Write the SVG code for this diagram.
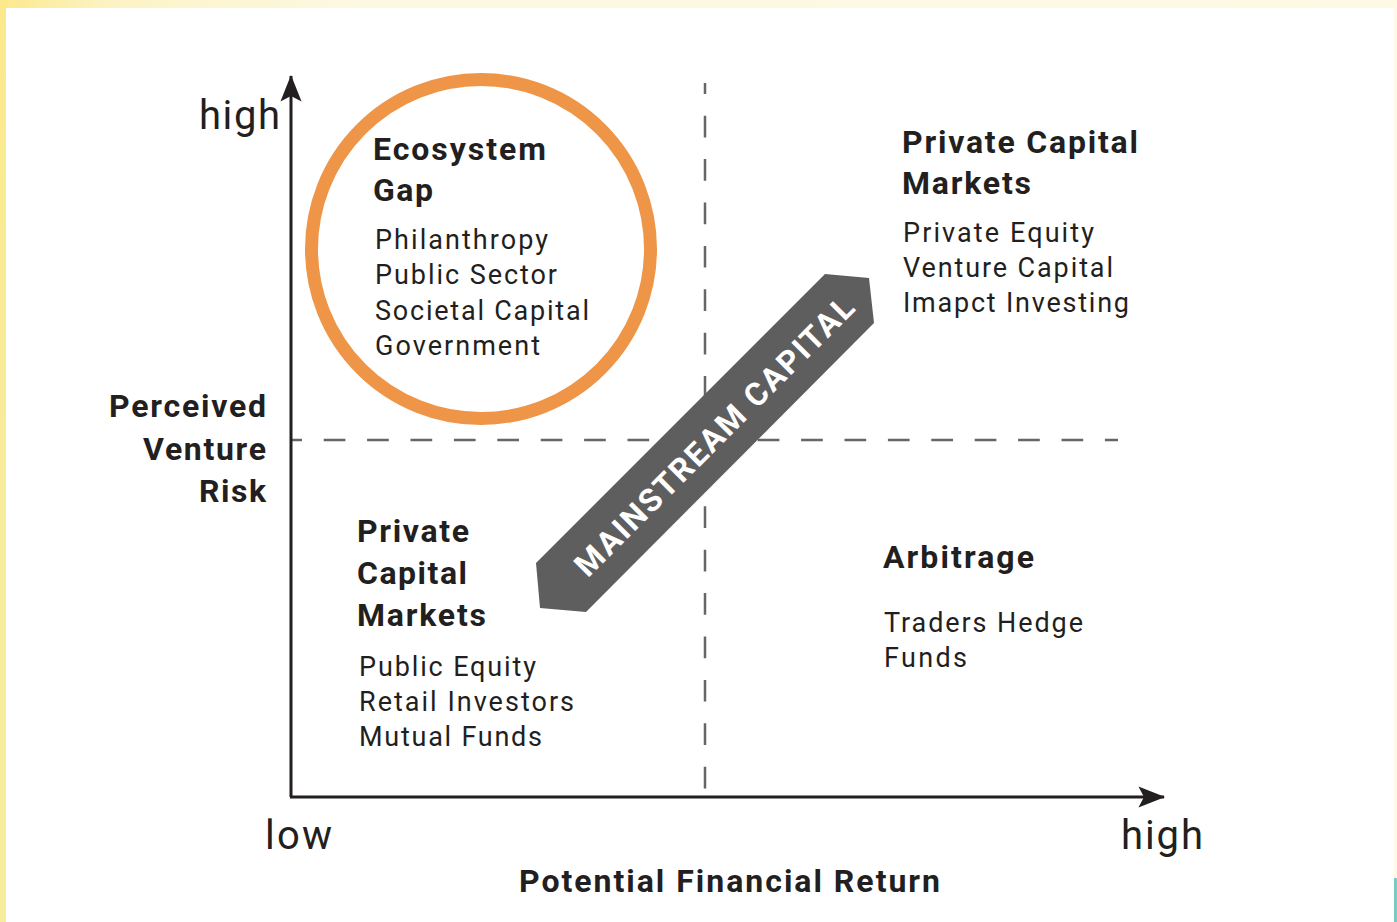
<svg xmlns="http://www.w3.org/2000/svg" width="1397" height="922" viewBox="0 0 1397 922">
  <defs>
    <linearGradient id="edgeLeft" x1="0" y1="0" x2="0" y2="1">
      <stop offset="0" stop-color="#fbe98c"/>
      <stop offset="0.5" stop-color="#f8ec9a"/>
      <stop offset="1" stop-color="#f7ec9c"/>
    </linearGradient>
    <linearGradient id="edgeTop" x1="0" y1="0" x2="1" y2="0">
      <stop offset="0" stop-color="#fbe98c"/>
      <stop offset="0.08" stop-color="#fcf3c4"/>
      <stop offset="0.25" stop-color="#fdf8e2"/>
      <stop offset="1" stop-color="#fef9e4"/>
    </linearGradient>
    <marker id="arrowHead" markerWidth="30" markerHeight="30" refX="0" refY="0" viewBox="-25 -12 27 24" markerUnits="userSpaceOnUse" orient="auto">
      <path d="M1,0 L-23,-9.5 L-18,0 L-23,9.5 Z" fill="#231f20"/>
    </marker>
    <style>
      .txt { font-family: Roboto, "Liberation Sans", sans-serif; fill: #231f20; }
      .head { font-weight: 700; font-size: 32px; }
      .body { font-weight: 400; font-size: 27px; }
      .axisLbl { font-weight: 400; font-size: 40px; }
      .axis { stroke: #231f20; stroke-width: 3; fill: none; }
      .dash { stroke: #666666; stroke-width: 2.5; fill: none; stroke-dasharray: 21.7 21.7; stroke-dashoffset: 10.7; }
    </style>
  </defs>

  <!-- page backdrop and white panel -->
  <rect x="0" y="0" width="1397" height="922" fill="#fef9e4"/>
  <rect x="0" y="0" width="1397" height="9" fill="url(#edgeTop)"/>
  <rect x="0" y="0" width="7" height="922" fill="url(#edgeLeft)"/>
  <rect x="1393" y="878" width="4" height="44" fill="#7fc9c4"/>
  <rect x="6" y="8" width="1388" height="914" fill="#ffffff"/>

  <!-- connectors: axes and quadrant dividers -->
  <g id="connectors">
    <line class="dash" x1="705" y1="83" x2="705" y2="797"/>
    <line class="dash" x1="291" y1="440" x2="1118" y2="440"/>
    <line class="axis" x1="291" y1="797" x2="291" y2="76" marker-end="url(#arrowHead)"/>
    <line class="axis" x1="290" y1="797" x2="1164" y2="797" marker-end="url(#arrowHead)"/>
  </g>

  <!-- axis labels -->
  <g id="axis-y-labels">
    <text class="txt axisLbl" x="199" y="129" textLength="81" lengthAdjust="spacing">high</text>
    <text class="txt head" font-size="30" x="266" y="417" text-anchor="end" textLength="157" lengthAdjust="spacing">Perceived</text>
    <text class="txt head" font-size="30" x="266" y="460" text-anchor="end" textLength="123" lengthAdjust="spacing">Venture</text>
    <text class="txt head" font-size="30" x="266" y="502" text-anchor="end" textLength="67" lengthAdjust="spacing">Risk</text>
  </g>
  <g id="axis-x-labels">
    <text class="txt axisLbl" x="265" y="849" textLength="67" lengthAdjust="spacing">low</text>
    <text class="txt axisLbl" x="1121" y="849" textLength="82" lengthAdjust="spacing">high</text>
    <text class="txt head" x="519" y="892" textLength="421" lengthAdjust="spacing">Potential Financial Return</text>
  </g>

  <!-- top-left quadrant -->
  <g id="ecosystem-gap">
    <circle cx="481" cy="249" r="169.5" fill="none" stroke="#ef9548" stroke-width="13"/>
    <text class="txt head" x="373" y="160" textLength="173" lengthAdjust="spacing">Ecosystem</text>
    <text class="txt head" x="373" y="201" textLength="60" lengthAdjust="spacing">Gap</text>
    <text class="txt body" x="375" y="249" textLength="173" lengthAdjust="spacing">Philanthropy</text>
    <text class="txt body" x="375" y="284" textLength="182" lengthAdjust="spacing">Public Sector</text>
    <text class="txt body" x="375" y="320" textLength="214" lengthAdjust="spacing">Societal Capital</text>
    <text class="txt body" x="375" y="355" textLength="165" lengthAdjust="spacing">Government</text>
  </g>

  <!-- top-right quadrant -->
  <g id="private-capital-top">
    <text class="txt head" x="902" y="153" textLength="236" lengthAdjust="spacing">Private Capital</text>
    <text class="txt head" x="902" y="194" textLength="129" lengthAdjust="spacing">Markets</text>
    <text class="txt body" x="903" y="242" textLength="191" lengthAdjust="spacing">Private Equity</text>
    <text class="txt body" x="903" y="277" textLength="210" lengthAdjust="spacing">Venture Capital</text>
    <text class="txt body" x="903" y="312" textLength="226" lengthAdjust="spacing">Imapct Investing</text>
  </g>

  <!-- bottom-left quadrant -->
  <g id="private-capital-bottom">
    <text class="txt head" font-size="31" x="357" y="542" textLength="112" lengthAdjust="spacing">Private</text>
    <text class="txt head" font-size="31" x="357" y="584" textLength="110" lengthAdjust="spacing">Capital</text>
    <text class="txt head" font-size="31" x="357" y="626" textLength="129" lengthAdjust="spacing">Markets</text>
    <text class="txt body" x="359" y="676" textLength="177" lengthAdjust="spacing">Public Equity</text>
    <text class="txt body" x="359" y="711" textLength="215" lengthAdjust="spacing">Retail Investors</text>
    <text class="txt body" x="359" y="746" textLength="183" lengthAdjust="spacing">Mutual Funds</text>
  </g>

  <!-- bottom-right quadrant -->
  <g id="arbitrage">
    <text class="txt head" font-size="31" x="883" y="568" textLength="151" lengthAdjust="spacing">Arbitrage</text>
    <text class="txt body" x="884" y="632" textLength="199" lengthAdjust="spacing">Traders Hedge</text>
    <text class="txt body" x="884" y="667" textLength="83" lengthAdjust="spacing">Funds</text>
  </g>

  <!-- diagonal band -->
  <g id="mainstream-capital">
    <polygon points="825,274 869,278 874,323 586,612 540,608 536,563" fill="#5e5e5e"/>
    <text transform="translate(714,436) rotate(-45)" x="0" y="11.5" text-anchor="middle" font-family="Roboto, 'Liberation Sans', sans-serif" font-weight="700" font-size="32" fill="#ffffff" textLength="380" lengthAdjust="spacing">MAINSTREAM CAPITAL</text>
  </g>
</svg>
